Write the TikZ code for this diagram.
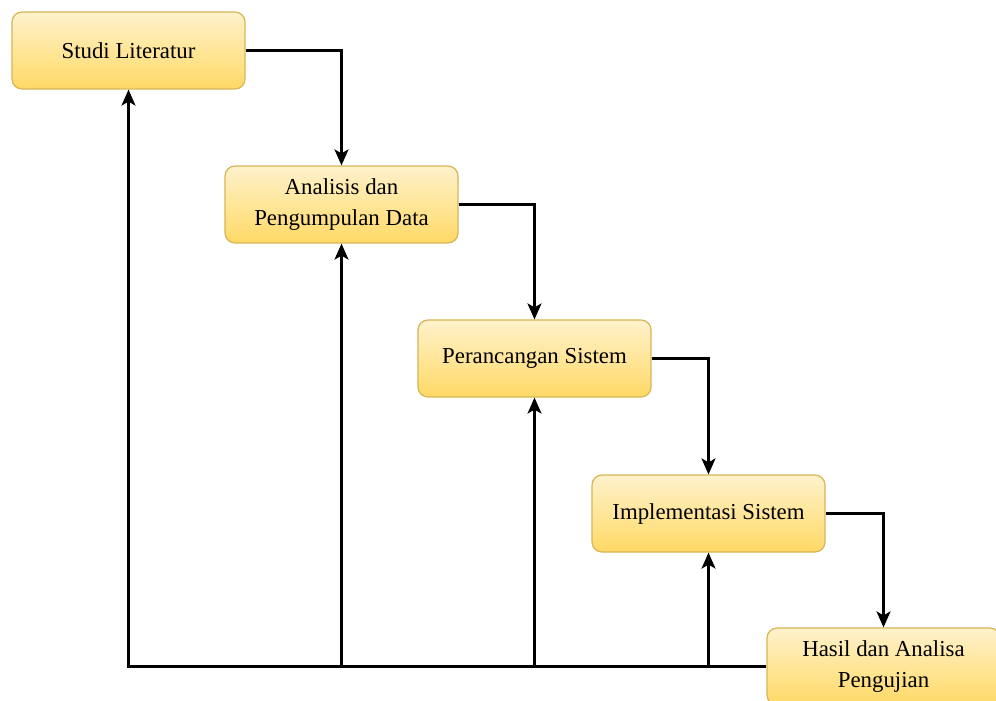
\documentclass[tikz,border=0pt]{standalone}
\usepackage{fontspec}
\setmainfont{Liberation Serif}
\usetikzlibrary{arrows.meta}
\definecolor{boxtop}{RGB}{255,242,204}
\definecolor{boxbot}{RGB}{255,217,102}
\definecolor{boxline}{RGB}{214,182,86}

\begin{document}
\begin{tikzpicture}[x=0.02cm,y=-0.02cm,
		stage/.style={draw=boxline, line width=0.7pt, rounded corners=0.2cm,
			top color=boxtop, bottom color=boxbot, minimum width=4.66cm,
			minimum height=1.54cm, align=center, inner sep=2pt,
			font=\fontsize{13}{17.5}\selectfont},
		flow/.style={line width=1.3pt, -{Stealth[length=0.32cm,width=0.28cm,inset=0.08cm]}}]
			\useasboundingbox (0,0) rectangle (996,700);
			\node[stage] (studi) at (128.5,50.5) {Studi Literatur};
			\node[stage] (analisis) at (341.5,204.5) {Analisis dan\\Pengumpulan Data};
			\node[stage] (rancang) at (534.5,358.5) {Perancangan Sistem};
			\node[stage] (impl) at (708.5,513.5) {Implementasi Sistem};
			\node[stage] (hasil) at (883.5,666.5) {Hasil dan Analisa\\Pengujian};
			
			\draw[flow] (studi.east) -| (analisis.north);
			\draw[flow] (analisis.east) -| (rancang.north);
			\draw[flow] (rancang.east) -| (impl.north);
			\draw[flow] (impl.east) -| (hasil.north);
			
			\draw[flow] (hasil.west) -| (studi.south);
			\foreach \n in {analisis, rancang, impl} \draw[flow] (\n.south |- hasil.west) -- (\n.south);
		\end{tikzpicture}
\end{document}
